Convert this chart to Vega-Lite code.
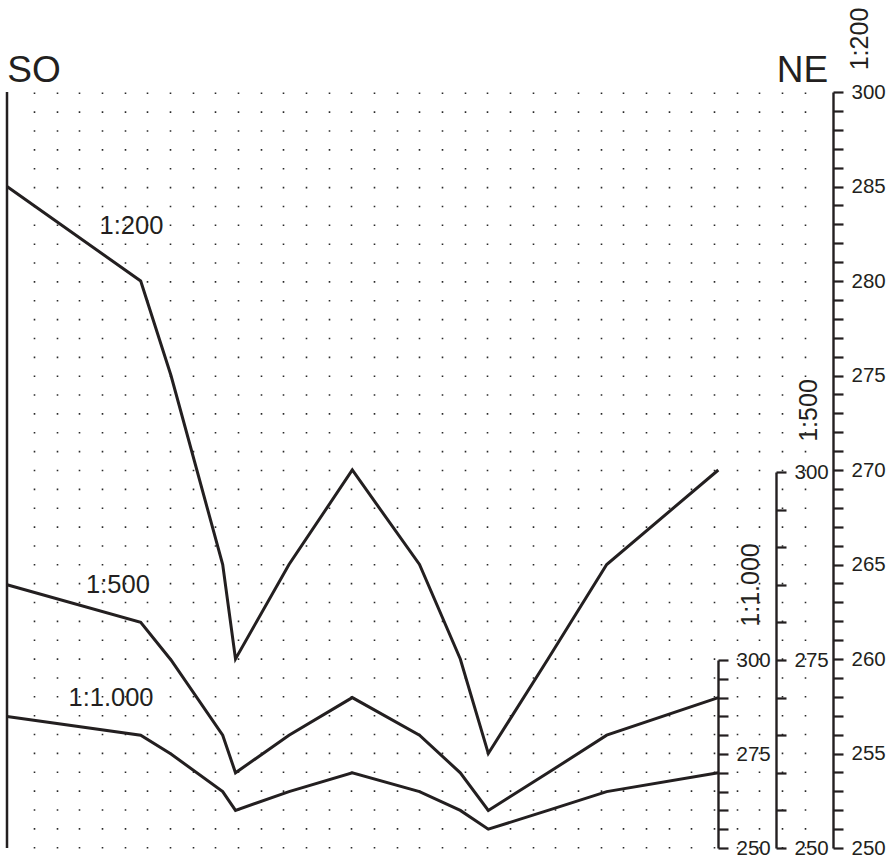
{
  "$schema": "https://vega.github.io/schema/vega-lite/v6.json",
  "width": 826,
  "height": 756,
  "autosize": "none",
  "padding": {"left": 7, "top": 92, "right": 60, "bottom": 18},
  "background": "white",
  "config": {
    "view": {"stroke": null},
    "font": "Liberation Sans",
    "axis": {
      "domainColor": "#231f20",
      "domainWidth": 2.4,
      "tickColor": "#231f20",
      "tickWidth": 2.2,
      "tickSize": 10,
      "labelFont": "Liberation Sans",
      "labelFontSize": 20.5,
      "labelColor": "#231f20",
      "labelPadding": 8,
      "labelOverlap": false,
      "labelFlush": false,
      "labelBound": false,
      "titleFont": "Liberation Sans",
      "titleFontSize": 25,
      "titleFontWeight": "normal",
      "titleColor": "#231f20"
    }
  },
  "datasets": {
    "profile": [
      {"dist": 0, "elev": 285},
      {"dist": 133.7, "elev": 280},
      {"dist": 164, "elev": 275},
      {"dist": 215.7, "elev": 265},
      {"dist": 228.5, "elev": 260},
      {"dist": 282, "elev": 265},
      {"dist": 345.3, "elev": 270},
      {"dist": 412.5, "elev": 265},
      {"dist": 453.3, "elev": 260},
      {"dist": 481.3, "elev": 255},
      {"dist": 541, "elev": 260},
      {"dist": 599.7, "elev": 265},
      {"dist": 711.3, "elev": 270}
    ]
  },
  "encoding": {
    "x": {
      "field": "dist",
      "type": "quantitative",
      "scale": {"domain": [0, 826], "nice": false, "zero": false},
      "axis": {
        "orient": "bottom",
        "values": [27, 49.67, 72.33, 95, 117.67, 140.33, 163, 185.67, 208.33, 231, 253.67, 276.33, 299, 321.67, 344.33, 367, 389.67, 412.33, 435, 457.67, 480.33, 503, 525.67, 548.33, 571, 593.67, 616.33, 639, 661.67, 684.33, 707, 729.67, 752.33, 775, 797.67],
        "grid": true,
        "gridDash": [1.6, 17.26],
        "gridColor": "#2a2a2a",
        "gridWidth": 1.6,
        "gridOpacity": 1,
        "labels": false,
        "ticks": false,
        "domain": false,
        "title": null
      }
    }
  },
  "layer": [
    {
      "data": {"values": [{"dist": 0}]},
      "mark": {"type": "rule", "color": "#231f20", "strokeWidth": 2.5},
      "encoding": {}
    },
    {
      "layer": [
        {
          "data": {"name": "profile"},
          "mark": {"type": "line", "color": "#231f20", "strokeWidth": 3, "strokeJoin": "miter", "strokeCap": "butt"}
        },
        {
          "data": {"values": [{"label": "1:200", "dist": 124.5, "elev": 282.9}]},
          "mark": {"type": "text", "fontSize": 25.5, "font": "Liberation Sans", "color": "#231f20", "align": "center", "baseline": "middle"},
          "encoding": {"text": {"field": "label", "type": "nominal"}}
        },
        {
          "data": {"values": [{"label": "SO", "dist": 27, "elev": 290}, {"label": "NE", "dist": 795.5, "elev": 290}]},
          "mark": {"type": "text", "fontSize": 37, "font": "Liberation Sans", "color": "#231f20", "align": "center", "baseline": "alphabetic", "dy": -10},
          "encoding": {"text": {"field": "label", "type": "nominal"}}
        }
      ],
      "encoding": {
        "y": {
          "field": "elev",
          "type": "quantitative",
          "scale": {"domain": [250, 290], "nice": false, "zero": false},
          "axis": {
            "orient": "right",
            "offset": 0,
            "grid": false,
            "domainWidth": 2.4,
            "domainColor": "#231f20",
            "tickWidth": 2.2,
            "tickColor": "#231f20",
            "values": [250, 251, 252, 253, 254, 255, 256, 257, 258, 259, 260, 261, 262, 263, 264, 265, 266, 267, 268, 269, 270, 271, 272, 273, 274, 275, 276, 277, 278, 279, 280, 281, 282, 283, 284, 285, 286, 287, 288, 289, 290],
            "labelExpr": "datum.value == 290 ? '300' : (datum.value % 5 == 0 ? datum.label : '')",
            "title": "1:200",
            "titleAngle": 270,
            "titleAlign": "center",
            "titleBaseline": "middle",
            "titleX": 26,
            "titleY": -53.5
          }
        }
      }
    },
    {
      "layer": [
        {
          "data": {"name": "profile"},
          "mark": {"type": "line", "color": "#231f20", "strokeWidth": 3, "strokeJoin": "miter", "strokeCap": "butt"}
        },
        {
          "data": {"values": [{"label": "1:500", "dist": 111, "elev": 285}]},
          "mark": {"type": "text", "fontSize": 25.5, "font": "Liberation Sans", "color": "#231f20", "align": "center", "baseline": "middle"},
          "encoding": {"text": {"field": "label", "type": "nominal"}}
        }
      ],
      "encoding": {
        "y": {
          "field": "elev",
          "type": "quantitative",
          "scale": {"domain": [250, 300], "range": [756, 380], "nice": false, "zero": false},
          "axis": {
            "orient": "right",
            "offset": -57,
            "grid": false,
            "domainWidth": 2.4,
            "domainColor": "#231f20",
            "tickWidth": 2.2,
            "tickColor": "#231f20",
            "values": [250, 255, 260, 265, 270, 275, 280, 285, 290, 295, 300],
            "labelExpr": "datum.value % 25 == 0 ? datum.label : ''",
            "title": "1:500",
            "titleAngle": 270,
            "titleAlign": "center",
            "titleBaseline": "middle",
            "titleX": 32,
            "titleY": 318
          }
        }
      }
    },
    {
      "layer": [
        {
          "data": {"name": "profile"},
          "mark": {"type": "line", "color": "#231f20", "strokeWidth": 3, "strokeJoin": "miter", "strokeCap": "butt"}
        },
        {
          "data": {"values": [{"label": "1:1.000", "dist": 104, "elev": 290}]},
          "mark": {"type": "text", "fontSize": 25.5, "font": "Liberation Sans", "color": "#231f20", "align": "center", "baseline": "middle"},
          "encoding": {"text": {"field": "label", "type": "nominal"}}
        }
      ],
      "encoding": {
        "y": {
          "field": "elev",
          "type": "quantitative",
          "scale": {"domain": [250, 300], "range": [756, 568], "nice": false, "zero": false},
          "axis": {
            "orient": "right",
            "offset": -115,
            "grid": false,
            "domainWidth": 2.4,
            "domainColor": "#231f20",
            "tickWidth": 2.2,
            "tickColor": "#231f20",
            "values": [250, 255, 260, 265, 270, 275, 280, 285, 290, 295, 300],
            "labelExpr": "datum.value % 25 == 0 ? datum.label : ''",
            "title": "1:1.000",
            "titleAngle": 270,
            "titleAlign": "center",
            "titleBaseline": "middle",
            "titleX": 32,
            "titleY": 492.5
          }
        }
      }
    }
  ],
  "resolve": {"scale": {"y": "independent"}, "axis": {"y": "independent"}}
}
